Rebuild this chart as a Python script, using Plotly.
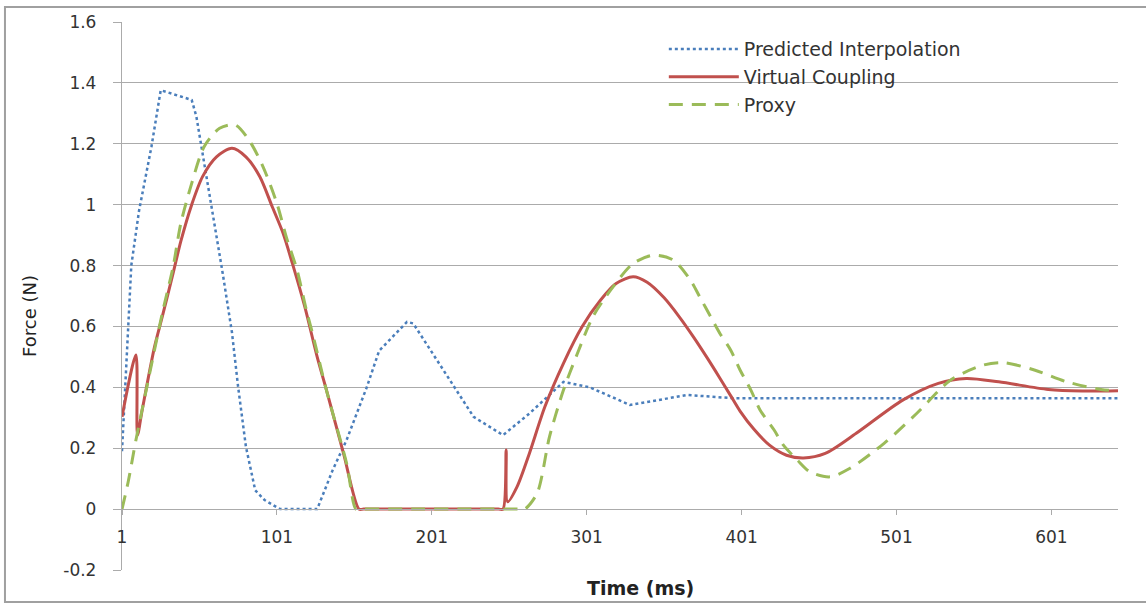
import plotly.graph_objects as go

# ---- data ----
pi_t = [1, 7, 12, 20, 26, 46, 49, 53, 59, 66, 72, 76, 81, 87, 93, 103, 127, 137, 146, 159, 167, 178, 185, 189,
        217, 228, 247, 264, 286, 303, 329, 366, 396, 644]
pi_f = [0.19, 0.80, 0.98, 1.19, 1.376, 1.344, 1.29, 1.17, 0.98, 0.775, 0.58, 0.40, 0.205, 0.062, 0.03, 0.0, 0.0,
        0.128, 0.227, 0.40, 0.52, 0.578, 0.615, 0.61, 0.39, 0.303, 0.243, 0.314, 0.418, 0.40, 0.342, 0.375, 0.364, 0.364]

vc_t = [1, 10, 11, 14, 22, 27, 34, 39, 46, 53, 62, 72, 81, 90, 98, 105, 111, 119, 127, 133, 144, 154, 157,
        244, 247, 249, 250, 256, 264, 274, 286, 298, 310, 320, 331, 340, 351, 361, 370, 379, 387, 394, 400,
        409, 419, 430, 441, 455, 475, 505, 528, 546, 567, 599, 621, 644]
vc_f = [0.303, 0.506, 0.243, 0.325, 0.533, 0.632, 0.775, 0.88, 1.0, 1.092, 1.157, 1.185, 1.157, 1.092,
        0.993, 0.906, 0.807, 0.665, 0.50, 0.391, 0.183, 0.0, 0.0, 0.0, 0.0, 0.194, 0.024, 0.073, 0.183, 0.336,
        0.479, 0.599, 0.687, 0.741, 0.763, 0.745, 0.694, 0.630, 0.565, 0.495, 0.430, 0.372, 0.322, 0.262, 0.21,
        0.177, 0.168, 0.183, 0.249, 0.358, 0.413, 0.429, 0.418, 0.393, 0.388, 0.389]

px_t = [1, 5, 10, 17, 27, 34, 39, 46, 54, 64, 74, 83, 92, 101, 107, 114, 120, 124, 133, 146, 152, 155,
        258, 261, 269, 277, 286, 295, 305, 318, 331, 344, 357, 368, 374, 381, 387, 394, 400, 407, 413, 422,
        428, 437, 445, 458, 471, 493, 514, 536, 557, 570, 590, 611, 633, 644]
px_f = [0.0, 0.09, 0.227, 0.40, 0.643, 0.796, 0.939, 1.07, 1.19, 1.251, 1.262, 1.212, 1.125, 1.004,
        0.895, 0.785, 0.654, 0.577, 0.39, 0.15, 0.0, 0.0, 0.0, 0.0, 0.052, 0.238, 0.391, 0.511, 0.632, 0.73,
        0.807, 0.834, 0.818, 0.752, 0.697, 0.632, 0.577, 0.522, 0.457, 0.391, 0.325, 0.26, 0.21, 0.161, 0.123,
        0.106, 0.134, 0.216, 0.314, 0.424, 0.473, 0.481, 0.457, 0.418, 0.393, 0.389]

x_ticks = [1, 101, 201, 301, 401, 501, 601]
y_ticks = [-0.2, 0, 0.2, 0.4, 0.6, 0.8, 1.0, 1.2, 1.4, 1.6]
y_tick_text = ["-0.2", "0", "0.2", "0.4", "0.6", "0.8", "1", "1.2", "1.4", "1.6"]

FONT = "DejaVu Sans"
GRID = "#ababab"

fig = go.Figure()
fig.add_trace(go.Scatter(x=pi_t, y=pi_f, mode="lines", name="Predicted Interpolation",
                         line=dict(color="#4a7ebb", width=2.5, dash="dot")))
fig.add_trace(go.Scatter(x=vc_t, y=vc_f, mode="lines", name="Virtual Coupling",
                         line=dict(color="#c0504d", width=3, shape="spline", smoothing=0.8)))
fig.add_trace(go.Scatter(x=px_t, y=px_f, mode="lines", name="Proxy",
                         line=dict(color="#9bbb59", width=3, dash="14px,9px", shape="spline", smoothing=0.8)))

fig.update_layout(
    width=1146, height=604,
    margin=dict(l=122, r=28, t=22, b=34),
    paper_bgcolor="white", plot_bgcolor="white",
    font=dict(family=FONT, size=17, color="#333333"),
    showlegend=True,
    legend=dict(x=0.544, y=0.985, xanchor="left", yanchor="top",
                bgcolor="rgba(0,0,0,0)", itemwidth=70, tracegroupgap=0,
                font=dict(family=FONT, size=19, color="#333333")),
    xaxis=dict(range=[1, 644], tickvals=x_ticks, showgrid=False, zeroline=False,
               anchor="free", position=0.2 / 1.8,
               showline=True, linecolor=GRID, linewidth=1.3,
               ticks="outside", ticklen=5, tickcolor=GRID, tickwidth=1.3,
               ticklabelstandoff=7, tickfont=dict(size=17)),
    yaxis=dict(range=[-0.2, 1.6], tickvals=y_ticks, ticktext=y_tick_text,
               showgrid=True, gridcolor=GRID, gridwidth=1.3, zeroline=False,
               showline=True, linecolor=GRID, linewidth=1.3,
               ticks="outside", ticklen=8, tickcolor=GRID, tickwidth=1.3,
               ticklabelstandoff=13, tickfont=dict(size=17)),
)

fig.add_annotation(text="<b>Time (ms)</b>", xref="paper", yref="paper", x=0.521, y=-0.033,
                   xanchor="center", yanchor="middle", showarrow=False,
                   font=dict(family=FONT, size=19, color="#222222"))
fig.add_annotation(text="Force (N)", xref="paper", yref="paper", x=-0.0934, y=0.4635,
                   xanchor="center", yanchor="middle", showarrow=False, textangle=-90,
                   font=dict(family=FONT, size=18, color="#222222"))

# chart frame
fig.add_shape(type="rect", xref="paper", yref="paper", x0=-0.1175, x1=1.06, y0=-0.0584, y1=1.0274,
              line=dict(color="#a0a0a0", width=2), layer="below")

fig.write_html("out.html")
